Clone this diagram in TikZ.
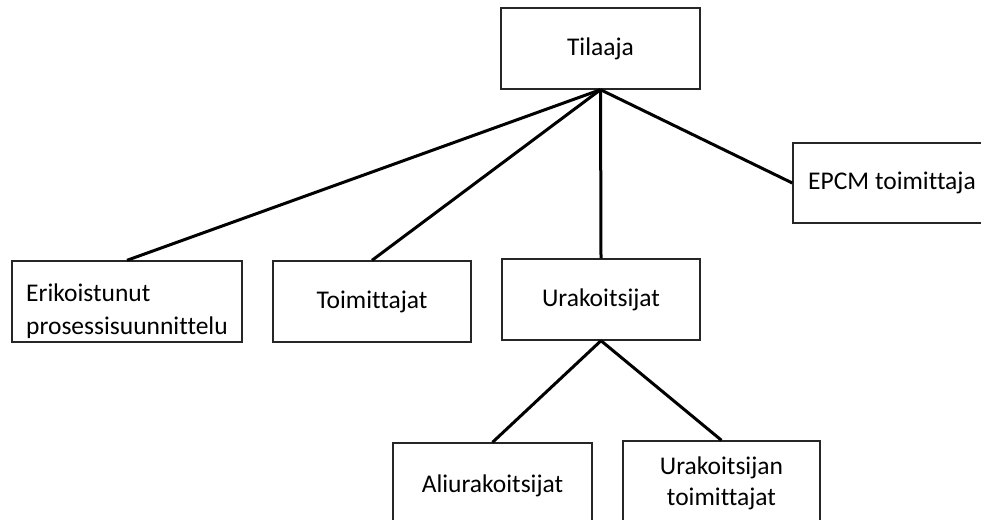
\documentclass[tikz,border=0pt]{standalone}
\usepackage{fontspec}
\setmainfont{Carlito}[Ligatures=NoCommon]
\begin{document}
\begin{tikzpicture}[x=1pt,y=-1pt,
  box/.style={draw=black!85,line width=1.4pt,rectangle,inner sep=0pt},
  txt/.style={inner sep=0pt,font=\fontsize{25.5}{31}\selectfont},
  link/.style={draw=black,line width=3pt}]
\useasboundingbox (0,0) rectangle (981,519);
\clip (0,0) rectangle (981,519);
\node[box,minimum width=199pt,minimum height=81pt] (tilaaja) at (600.5,48.5) {};
\node[txt] (tilaajaT) at (tilaaja.center) {Tilaaja};
\node[box,minimum width=198pt,minimum height=80pt] (epcm) at (892,183) {};
\node[txt] (epcmT) at (epcm.center) {EPCM toimittaja};
\node[box,minimum width=230pt,minimum height=81pt] (erik) at (127,301.5) {};
\node[txt,align=left,font=\fontsize{25.5}{33}\selectfont,yshift=-10pt] (erikT) at (erik.center) {Erikoistunut\\prosessisuunnittelu};
\node[box,minimum width=198pt,minimum height=81pt] (toim) at (372,301.5) {};
\node[txt] (toimT) at (toim.center) {Toimittajat};
\node[box,minimum width=198pt,minimum height=81pt] (urak) at (601,299.5) {};
\node[txt] (urakT) at (urak.center) {Urakoitsijat};
\node[box,minimum width=199pt,minimum height=80pt] (ali) at (492.5,483) {};
\node[txt,yshift=-3pt] (aliT) at (ali.center) {Aliurakoitsijat};
\node[box,minimum width=197pt,minimum height=81pt] (urtoim) at (721.5,481.5) {};
\node[txt,align=center,yshift=-2pt] (urtoimT) at (urtoim.center) {Urakoitsijan\\toimittajat};
\draw[link] (tilaaja.south) -- (erik.north);
\draw[link] (tilaaja.south) -- (toim.north);
\draw[link] (tilaaja.south) -- (urak.north);
\draw[link] (tilaaja.south) -- (epcm.west);
\draw[link] (urak.south) -- (ali.north);
\draw[link] (urak.south) -- (urtoim.north);
\end{tikzpicture}
\end{document}
